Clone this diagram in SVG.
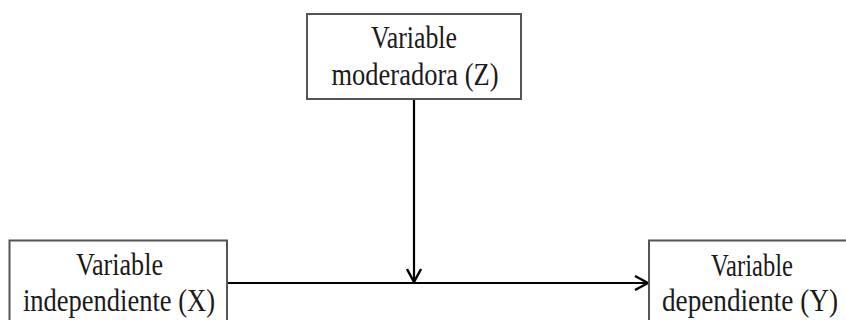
<svg xmlns="http://www.w3.org/2000/svg" width="846" height="320" viewBox="0 0 846 320">
  <style>
    .box { fill: #ffffff; stroke: #555555; stroke-width: 2; }
    .lbl { font-family: "Liberation Serif", "Times New Roman", serif; font-size: 31px; fill: #1a1a1a; text-anchor: middle; }
    .con { stroke: #000000; stroke-width: 2.2; fill: none; }
  </style>
  <defs>
    <marker id="arr" viewBox="0 0 16 16" refX="15" refY="8" markerWidth="16" markerHeight="16" markerUnits="userSpaceOnUse" orient="auto">
      <path d="M2,1 L15,8 L2,15" fill="none" stroke="#000000" stroke-width="2.4"/>
    </marker>
  </defs>
  <g id="connectors">
    <line class="con" x1="227" y1="283" x2="648" y2="283" marker-end="url(#arr)"/>
    <line class="con" x1="414" y1="99" x2="414" y2="282" marker-end="url(#arr)"/>
  </g>
  <g id="node-z">
    <rect class="box" x="307" y="14" width="214" height="85"/>
    <text class="lbl" x="414" y="48" textLength="86" lengthAdjust="spacingAndGlyphs">Variable</text>
    <text class="lbl" x="415" y="85" textLength="167" lengthAdjust="spacingAndGlyphs">moderadora (Z)</text>
  </g>
  <g id="node-x">
    <rect class="box" x="9.5" y="240.5" width="217.5" height="90"/>
    <text class="lbl" x="119.5" y="275" textLength="87" lengthAdjust="spacingAndGlyphs">Variable</text>
    <text class="lbl" x="119" y="310.5" textLength="192" lengthAdjust="spacingAndGlyphs">independiente (X)</text>
  </g>
  <g id="node-y">
    <rect class="box" x="649" y="240.5" width="210" height="90"/>
    <text class="lbl" x="752" y="276" textLength="82" lengthAdjust="spacingAndGlyphs">Variable</text>
    <text class="lbl" x="750" y="311" textLength="176" lengthAdjust="spacingAndGlyphs">dependiente (Y)</text>
  </g>
</svg>
